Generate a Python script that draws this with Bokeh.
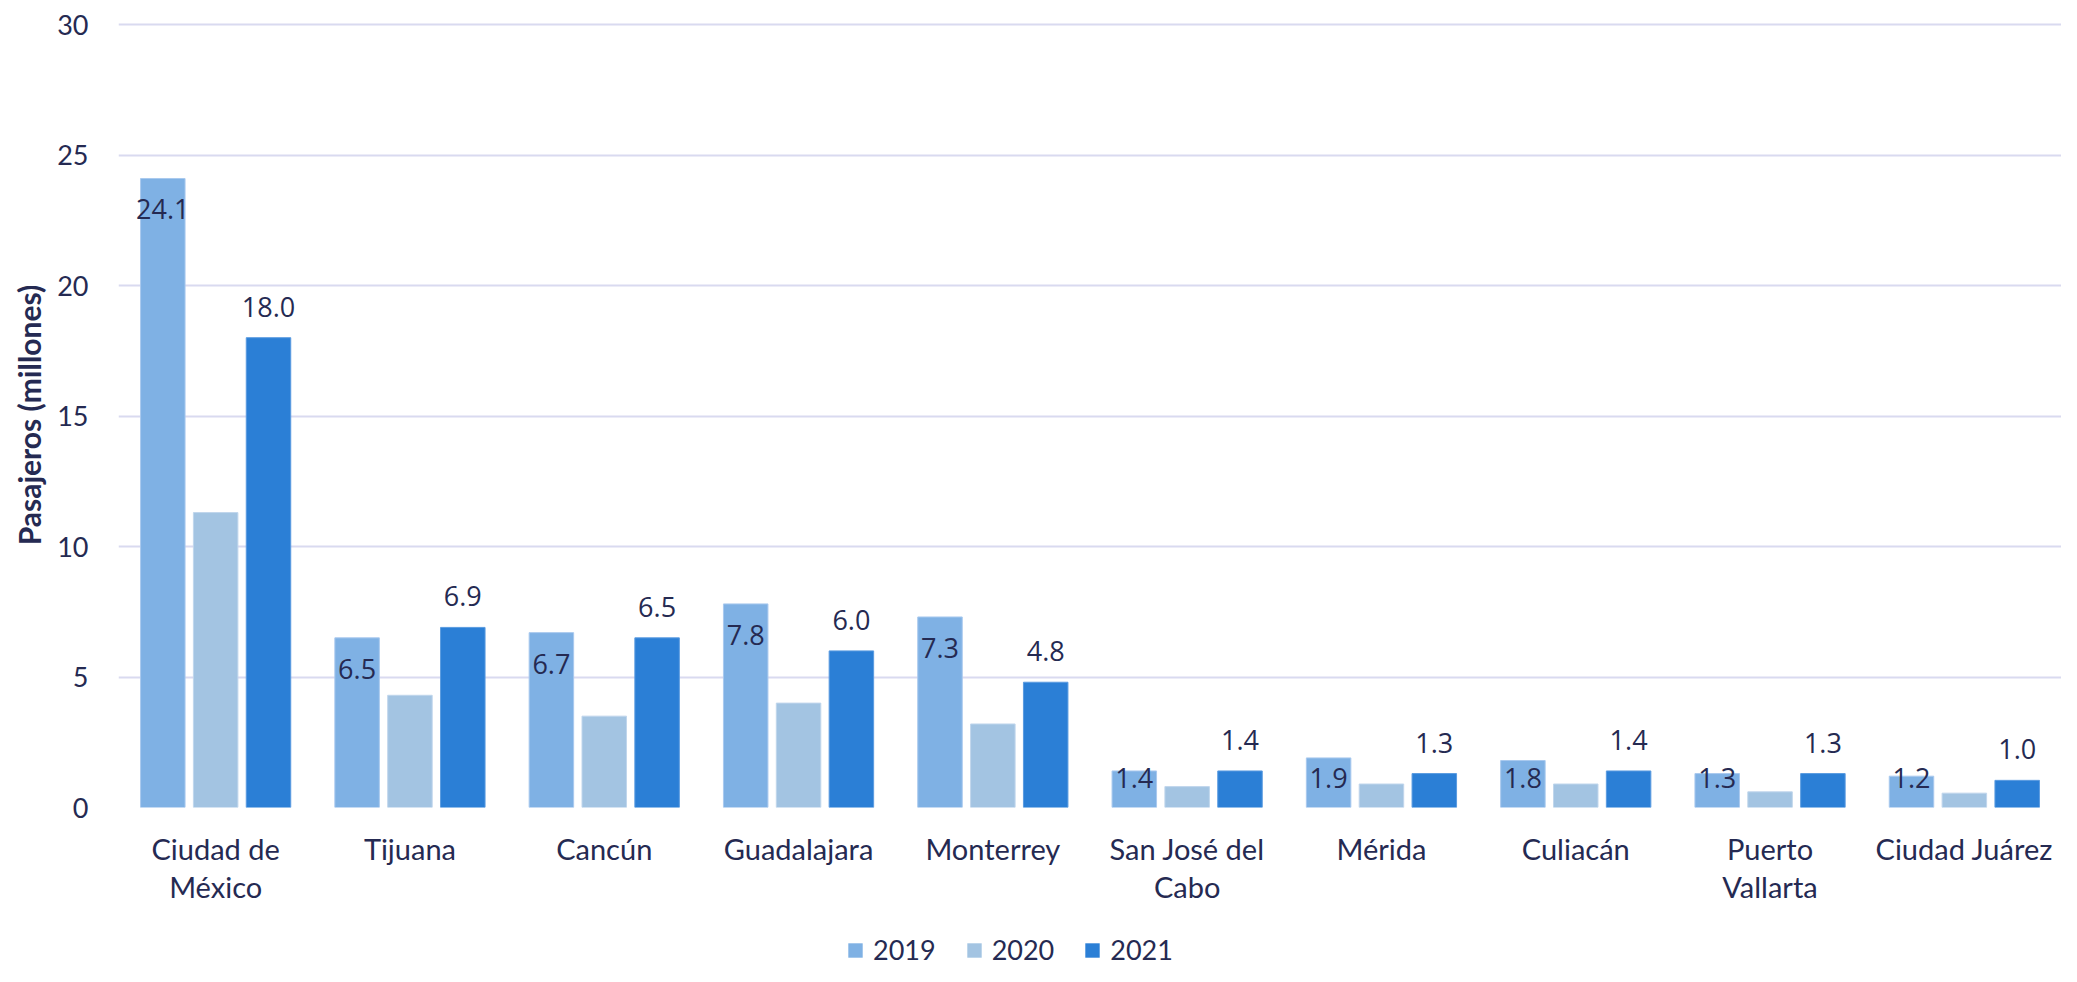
import numpy as np
from bokeh.plotting import figure
from bokeh.layouts import column
from bokeh.models import (FactorRange, Range1d, ColumnDataSource, Legend, LegendItem,
                          FixedTicker, CategoricalAxis, CustomJSTickFormatter)
from bokeh.transform import dodge
from bokeh.core.properties import value
from bokeh.embed import file_html
from bokeh.resources import INLINE

# ---------------- data ----------------
cities = ["Ciudad de México", "Tijuana", "Cancún", "Guadalajara", "Monterrey",
          "San José del Cabo", "Mérida", "Culiacán", "Puerto Vallarta", "Ciudad Juárez"]
label_line1 = ["Ciudad de", "Tijuana", "Cancún", "Guadalajara", "Monterrey",
               "San José del", "Mérida", "Culiacán", "Puerto", "Ciudad Juárez"]
label_line2 = ["México", "", "", "", "", "Cabo", "", "", "Vallarta", ""]
years = ["2019", "2020", "2021"]
pax_2019 = [24.1, 6.5, 6.7, 7.8, 7.3, 1.4, 1.9, 1.8, 1.3, 1.2]
pax_2020 = [11.3, 4.3, 3.5, 4.0, 3.2, 0.8, 0.9, 0.9, 0.6, 0.55]
pax_2021 = [18.0, 6.9, 6.5, 6.0, 4.8, 1.4, 1.3, 1.4, 1.3, 1.04]
y_ticks = [0, 5, 10, 15, 20, 25, 30]
y_title = "Pasajeros (millones)"

# ---------------- style ----------------
NAVY = "#252a52"
C2019 = "#7fb1e4"
C2020 = "#a3c4e2"
C2021 = "#2b7fd6"
GRID = "#d9daf0"

W = 2061
H_MAIN, H_LEG = 930, 36
PPU = 26.1                      # pixels per million
TOP = 22
FRAME_BOTTOM = 807
BOTTOM = H_MAIN - FRAME_BOTTOM
LEFT = 118
Y_END = (FRAME_BOTTOM - TOP) / PPU
LEGEND_X = 846                  # left edge of first legend swatch (page px)

lab_2019 = [f"{v:.1f}" for v in pax_2019]
lab_2021 = [f"{v:.1f}" for v in pax_2021]
lab_2019_y = list(np.maximum(np.array(pax_2019) - 31 / PPU, 30 / PPU))

src = ColumnDataSource(dict(city=cities, v2019=pax_2019, v2020=pax_2020, v2021=pax_2021,
                            l2019=lab_2019, l2021=lab_2021, l2019_y=lab_2019_y))

p = figure(width=W, height=H_MAIN, x_range=FactorRange(factors=cities, range_padding=0),
           y_range=Range1d(0, Y_END), output_backend="svg", toolbar_location=None,
           min_border_left=LEFT, min_border_right=0, min_border_top=TOP,
           min_border_bottom=BOTTOM, x_axis_location=None)
p.outline_line_color = None
p.background_fill_color = "white"
p.border_fill_color = "white"

OFF = 0.272
BW = 0.229
bar_fill = [C2019, C2020, C2021]
bar_line = ["#a9c9ee", "#c0d6ec", "#5a9be0"]
series = ["v2019", "v2020", "v2021"]
offsets = [-OFF, 0, OFF]

bars = [p.vbar(x=dodge("city", o, range=p.x_range), top=s, width=BW, source=src,
               fill_color=fc, line_color=lc, line_width=1)
        for o, s, fc, lc in zip(offsets, series, bar_fill, bar_line)]

p.text(x=dodge("city", -OFF, range=p.x_range), y="l2019_y", text="l2019", source=src,
       text_align="center", text_baseline="middle", text_font=value("Open Sans"),
       text_font_size="27px", text_color=NAVY)
p.text(x=dodge("city", OFF, range=p.x_range), y="v2021", text="l2021", source=src,
       text_align="center", text_baseline="middle", y_offset=-31,
       text_font=value("Open Sans"), text_font_size="27px", text_color=NAVY)

# grid
p.xgrid.grid_line_color = None
p.ygrid.grid_line_color = GRID
p.ygrid.grid_line_width = 2

# y axis
p.yaxis.ticker = FixedTicker(ticks=y_ticks)
p.yaxis.axis_line_color = None
p.yaxis.major_tick_line_color = None
p.yaxis.minor_tick_line_color = None
p.yaxis.major_label_standoff = 24
p.yaxis.major_label_text_font = "Lato"
p.yaxis.major_label_text_font_size = "27px"
p.yaxis.major_label_text_color = NAVY
p.yaxis.axis_label = y_title
p.yaxis.axis_label_text_font = "Lato"
p.yaxis.axis_label_text_font_style = "bold"
p.yaxis.axis_label_text_font_size = "30px"
p.yaxis.axis_label_text_color = NAVY
p.yaxis.axis_label_standoff = 7


def cat_axis(lines, standoff):
    ax = CategoricalAxis(
        formatter=CustomJSTickFormatter(args=dict(cities=cities, lines=lines),
                                        code="return lines[cities.indexOf(tick)];"))
    ax.axis_line_color = None
    ax.major_tick_line_color = None
    ax.minor_tick_line_color = None
    ax.major_label_standoff = standoff
    ax.major_label_text_font = "Lato"
    ax.major_label_text_font_size = "29px"
    ax.major_label_text_color = NAVY
    return ax


p.add_layout(cat_axis(label_line1, 17), "below")
p.add_layout(cat_axis(label_line2, -6), "below")

# ---------------- legend strip ----------------
# hidden copies of the series that only feed the legend swatches
lg = figure(width=W, height=H_LEG, x_range=FactorRange(factors=cities, range_padding=0),
            y_range=Range1d(-2, -1), output_backend="svg", toolbar_location=None,
            min_border=0, x_axis_location=None, y_axis_location=None)
lg.outline_line_color = None
lg.xgrid.grid_line_color = None
lg.ygrid.grid_line_color = None
lg_renderers = [lg.vbar(x="city", top=s, bottom=s, width=BW, source=src,
                        fill_color=fc, line_color=None, visible=False)
                for s, fc in zip(series, bar_fill)]
legend = Legend(items=[LegendItem(label=y, renderers=[r], index=0)
                       for y, r in zip(years, lg_renderers)],
                orientation="horizontal", location=(LEGEND_X - LEFT, 0),
                glyph_width=18, glyph_height=18, label_standoff=9, spacing=29,
                padding=0, margin=0, border_line_color=None,
                background_fill_alpha=0, inactive_fill_alpha=0,
                label_text_font="Lato", label_text_font_size="27px",
                label_text_color=NAVY)
lg.add_layout(legend, "center")

layout = column(p, lg, spacing=0)
open("out.html", "w").write(file_html(layout, INLINE))
